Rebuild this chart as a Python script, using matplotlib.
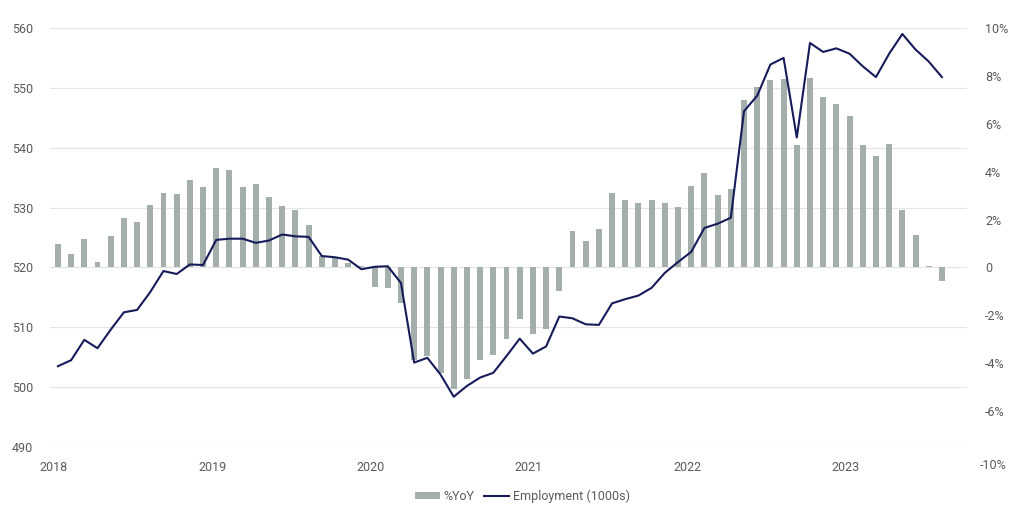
import matplotlib
matplotlib.use("Agg")
import matplotlib.pyplot as plt
from matplotlib.patches import Patch
from matplotlib.lines import Line2D
import numpy as np

plt.rcParams['font.family'] = ['Roboto', 'DejaVu Sans']

# monthly, Jan 2018 .. Aug 2023
yoy = [0.96, 0.54, 1.17, 0.24, 1.31, 2.07, 1.89, 2.61, 3.11, 3.07, 3.67, 3.36,
       4.15, 4.06, 3.36, 3.49, 2.94, 2.56, 2.39, 1.78, 0.47, 0.45, 0.20, 0.05,
       -0.82, -0.88, -1.47, -3.86, -3.72, -4.39, -5.08, -4.67, -3.86, -3.66, -3.00, -2.17,
       -2.79, -2.56, -1.00, 1.53, 1.10, 1.62, 3.12, 2.82, 2.71, 2.83, 2.68, 2.54,
       3.40, 3.93, 3.01, 3.26, 6.99, 7.54, 7.81, 7.89, 5.13, 7.90, 7.10, 6.82,
       6.31, 5.13, 4.67, 5.17, 2.39, 1.35, 0.06, -0.58]

employment = [503.5, 504.5, 507.9, 506.5, 509.6, 512.5, 512.9, 515.9, 519.4, 518.9, 520.5, 520.4,
              524.6, 524.8, 524.8, 524.1, 524.5, 525.5, 525.2, 525.1, 521.9, 521.7, 521.3, 519.7,
              520.1, 520.2, 517.4, 504.1, 504.9, 502.1, 498.4, 500.2, 501.6, 502.4, 505.2, 508.1,
              505.6, 506.8, 511.8, 511.5, 510.5, 510.4, 514.0, 514.7, 515.3, 516.6, 519.1, 520.9,
              522.6, 526.6, 527.3, 528.3, 546.1, 548.7, 553.9, 555.0, 541.7, 557.5, 556.0, 556.6,
              555.7, 553.6, 551.8, 555.7, 559.0, 556.4, 554.4, 551.8]

years = ['2018', '2019', '2020', '2021', '2022', '2023']

bar_col = '#a4afab'
line_col = '#161b5a'
txt_col = '#5a5a5a'

x = np.arange(len(yoy))

fig = plt.figure(figsize=(10.24, 5.17), dpi=100)
ax = fig.add_axes([50/1024, 1 - 447/517, 917/1024, 419/517])
ax2 = ax.twinx()
ax3 = ax.twinx()

# grid / left axis
ax.set_ylim(490, 560)
ax.set_yticks(np.arange(490, 561, 10))
ax.grid(axis='y', color='#e4e4e4', linewidth=0.8)
ax.set_xlim(-0.6, 68.9)
ax.set_xticks(np.arange(0, 61, 12) - 0.3)
ax.set_xticklabels(years)

# bars (right axis)
ax2.bar(x, yoy, width=0.45, color=bar_col)
ax2.set_ylim(-7.5, 10)
rt = [-6, -4, -2, 0, 2, 4, 6, 8, 10]
ax2.set_yticks(rt)
ax2.set_yticklabels(['0' if v == 0 else f'{v}%' for v in rt])
ax2.text(1 + 13/917, -0.045, '-10%', transform=ax2.transAxes, ha='left', va='center',
         fontsize=9, color=txt_col)

# line
ax3.plot(x, employment, color=line_col, linewidth=1.5)
ax3.set_ylim(490, 560)
ax3.set_yticks([])

for a in (ax, ax2, ax3):
    for s in a.spines.values():
        s.set_visible(False)
    a.tick_params(length=0, labelsize=9, labelcolor=txt_col)
ax.tick_params(axis='y', pad=12)
ax.tick_params(axis='x', pad=10)
ax2.tick_params(axis='y', pad=13)

handles = [Patch(facecolor=bar_col, edgecolor='none'),
           Line2D([0], [0], color=line_col, linewidth=1.5)]
fig.legend(handles, ['%YoY', 'Employment (1000s)'], loc='center',
           bbox_to_anchor=(0.51, 0.04), ncol=2, frameon=False, fontsize=9,
           labelcolor=txt_col, handlelength=2.0, handleheight=0.5,
           handletextpad=0.3, columnspacing=0.8)

fig.savefig('out.png', dpi=100)
